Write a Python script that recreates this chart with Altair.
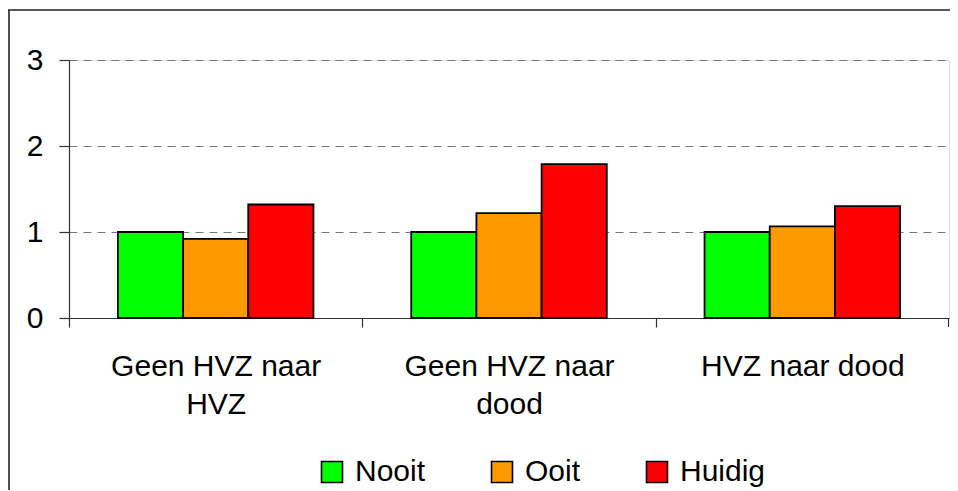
import altair as alt
import pandas as pd

categories = ["Geen HVZ naar HVZ", "Geen HVZ naar dood", "HVZ naar dood"]
series = ["Nooit", "Ooit", "Huidig"]
nooit = [1.0, 1.0, 1.0]
ooit = [0.92, 1.22, 1.065]
huidig = [1.32, 1.79, 1.30]
colors = ["#00FF00", "#FF9900", "#FF0000"]
y_ticks = [0, 1, 2, 3]

rows = []
for s, vals in zip(series, [nooit, ooit, huidig]):
    for c, v in zip(categories, vals):
        rows.append({"cat": c, "serie": s, "value": v})
df = pd.DataFrame(rows)

FONT = "Liberation Sans"
W, H = 880, 258
STEP = W / len(categories)

bars = alt.Chart(df).mark_bar(stroke="black", strokeWidth=1.8).encode(
    x=alt.X("cat:N", sort=categories, title=None,
            scale=alt.Scale(paddingInner=1/3, paddingOuter=1/6),
            axis=alt.Axis(labelAngle=0, tickOffset=-STEP / 2, labelOffset=STEP / 2,
                          tickSize=9, labelFontSize=30, labelPadding=24, labelLineHeight=38,
                          labelLimit=0, labelColor="black", tickColor="#333333",
                          domainColor="#333333", domainWidth=1.2, tickWidth=1.2,
                          labelFont=FONT,
                          labelExpr="datum.label == 'HVZ naar dood' ? datum.label : split(replace(datum.label, 'naar ', 'naar|'), '|')")),
    xOffset=alt.XOffset("serie:N", sort=series),
    y=alt.Y("value:Q", title=None,
            scale=alt.Scale(domain=[0, 3], nice=False),
            axis=alt.Axis(values=y_ticks, tickSize=10, labelFontSize=30, labelPadding=16,
                          labelColor="black", labelFont=FONT, tickColor="#333333",
                          domainColor="#333333", domainWidth=1.2, tickWidth=1.2,
                          grid=True, gridColor="#777777", gridDash=[8, 6], gridWidth=1.2)),
    color=alt.Color("serie:N", sort=series,
                    scale=alt.Scale(domain=series, range=colors),
                    legend=alt.Legend(title=None, orient="none", legendX=248, legendY=397,
                                      direction="horizontal", symbolType="square",
                                      symbolSize=441, symbolStrokeColor="black",
                                      symbolStrokeWidth=1.6, symbolOpacity=1,
                                      labelFontSize=30, labelFont=FONT, labelColor="black",
                                      labelOffset=8, columnPadding=61)),
)

one = pd.DataFrame({"k": [0]})
last_tick = alt.Chart(one).mark_rule(color="#333333", strokeWidth=1.2).encode(
    x=alt.value(W - 0.5), y=alt.value(H), y2=alt.value(H + 9))
top_border = alt.Chart(one).mark_rule(color="#222222", strokeWidth=1.6).encode(
    x=alt.value(-61), x2=alt.value(900), y=alt.value(-50))
left_border = alt.Chart(one).mark_rule(color="#222222", strokeWidth=1.6).encode(
    x=alt.value(-60), y=alt.value(-50), y2=alt.value(440))

chart = alt.layer(bars, last_tick, top_border, left_border).properties(
    width=W, height=H,
    autosize=alt.AutoSizeParams(type="none"),
    padding={"left": 61, "top": 52, "right": 1, "bottom": 172},
).configure_view(stroke="#999999", strokeWidth=1.5).configure(font=FONT)

chart.save("out.html", embed_options={"renderer": "svg", "actions": False})
